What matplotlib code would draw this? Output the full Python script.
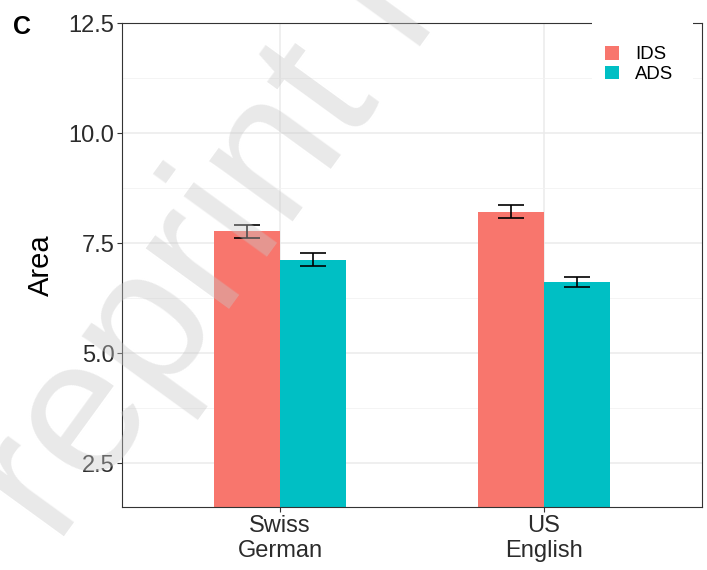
import matplotlib.pyplot as plt
from matplotlib.patches import Patch, Rectangle
import numpy as np

plt.rcParams['font.family'] = ['Liberation Sans', 'DejaVu Sans']

# data
languages = ['Swiss\nGerman', 'US\nEnglish']
speech_types = ['IDS', 'ADS']
area_mean = {'IDS': [7.77, 8.21], 'ADS': [7.12, 6.62]}
area_se = {'IDS': [0.15, 0.15], 'ADS': [0.15, 0.11]}
colors = {'IDS': '#F8766D', 'ADS': '#00BFC4'}

W, H = 707, 570
fig = plt.figure(figsize=(W / 100, H / 100), dpi=100)
ax = fig.add_axes([122 / W, 1 - 507 / H, 580 / W, 484 / H])

x = np.arange(len(languages))
bar_w = 0.25
offsets = {'IDS': -bar_w / 2, 'ADS': bar_w / 2}

for st in speech_types:
    ax.bar(x + offsets[st], area_mean[st], width=bar_w, color=colors[st],
           zorder=2, label=st)
    ax.errorbar(x + offsets[st], area_mean[st], yerr=area_se[st], fmt='none',
                ecolor='black', elinewidth=1.2, capsize=9.5, capthick=1.2,
                zorder=3)

ax.set_xlim(-0.6, 1.6)
ax.set_ylim(1.5, 12.5)
ax.set_xticks(x)
ax.set_xticklabels(languages)
ax.set_yticks([2.5, 5.0, 7.5, 10.0, 12.5])
ax.set_yticks([3.75, 6.25, 8.75, 11.25], minor=True)

# theme_bw look
ax.grid(True, which='major', color='#EBEBEB', linewidth=1.1, zorder=0)
ax.grid(True, which='minor', axis='y', color='#F2F2F2', linewidth=0.6, zorder=0)
ax.set_axisbelow(True)
for sp in ax.spines.values():
    sp.set_color('#333333')
    sp.set_linewidth(0.8)
ax.tick_params(axis='both', which='major', length=3.5, width=0.8,
               color='#333333', labelsize=17, labelcolor='#2b2b2b', pad=2)
ax.tick_params(axis='y', which='minor', length=0)
ax.set_ylabel('Area', fontsize=21, labelpad=10)

# legend box sits over the top-right corner of the panel
ax.add_patch(Rectangle((0.810, 0.83), 0.174, 0.20, transform=ax.transAxes,
                       facecolor='white', edgecolor='none', clip_on=False,
                       zorder=2.6))
handles = [Patch(facecolor=colors[s], edgecolor='none', label=s) for s in speech_types]
ax.legend(handles=handles, loc='upper left', bbox_to_anchor=(0.833, 0.952),
          frameon=False, fontsize=13.4, handlelength=0.72, handleheight=0.72,
          handletextpad=0.9, labelspacing=0.12, borderpad=0, borderaxespad=0)

fig.text(22 / W, 1 - 27 / H, 'C', fontsize=18, fontweight='bold',
         ha='center', va='center')

# diagonal preprint watermark
fig.text(-19 / W, 1 - 651 / H, 'Preprint not peer reviewed', fontsize=140,
         color='#C8C8C8', alpha=0.4, rotation=54, rotation_mode='anchor',
         ha='left', va='baseline', zorder=10)

fig.savefig('out.png', dpi=100)
